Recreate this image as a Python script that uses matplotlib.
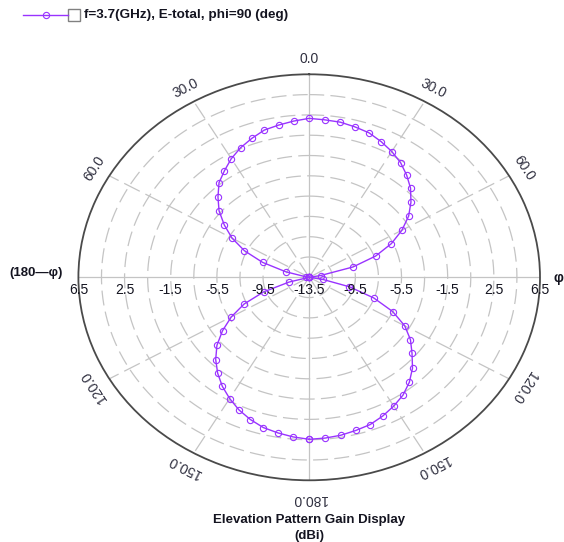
import numpy as np
import matplotlib
matplotlib.use('Agg')
import matplotlib.pyplot as plt
from matplotlib.lines import Line2D
from matplotlib.patches import Rectangle

plt.rcParams['font.family'] = ['Liberation Sans', 'DejaVu Sans']

# ── data: elevation cut, phi = 90 deg (theta in deg, gain in dBi) ─────────
theta_deg = [-180, -175, -170, -165, -160, -155, -150, -145, -140, -135,
             -130, -125, -120, -115, -110, -105, -100, -95, -90, -85,
             -80, -75, -70, -65, -60, -55, -50, -45, -40, -35,
             -30, -25, -20, -15, -10, -5, 0, 5, 10, 15,
             20, 25, 30, 35, 40, 45, 50, 55, 60, 65,
             70, 75, 80, 85, 90, 95, 100, 105, 110, 115,
             120, 125, 130, 135, 140, 145, 150, 155, 160, 165,
             170, 175, 180]
gain_dbi = [2.46, 2.29, 2.07, 1.83, 1.41, 0.91, 0.29, -0.38, -1.16, -2.04,
            -3.06, -4.33, -5.71, -7.28, -9.30, -11.7, -13.5, -13.5, -13.5, -13.5,
            -13.2, -11.4, -9.20, -7.31, -5.78, -4.52, -3.30, -2.32, -1.34, -0.69,
            0.00, 0.58, 1.06, 1.52, 1.73, 1.95, 2.16, 2.07, 2.02, 1.84,
            1.65, 1.25, 0.81, 0.30, -0.36, -1.08, -1.99, -2.98, -4.22, -5.64,
            -7.37, -9.58, -12.5, -13.5, -13.5, -13.5, -12.3, -9.90, -7.54, -5.52,
            -3.94, -2.79, -1.87, -0.84, 0.00, 0.67, 1.15, 1.58, 1.94, 2.12,
            2.30, 2.40, 2.46]

ring_ticks = [6.5, 2.5, -1.5, -5.5, -9.5]
ring_grid = [-11.5, -9.5, -7.5, -5.5, -3.5, -1.5, 0.5, 2.5, 4.5]
angle_ticks = [0, 30, 60, 120, 150, 180, -30, -60, -120, -150]

R_MIN, R_MAX = -13.5, 6.5
CURVE = '#9933ff'
GRID = '#c4c4c4'
TXT = '#141420'
W, H = 564, 542

fig = plt.figure(figsize=(W / 100, H / 100), dpi=100)
ax = fig.add_axes([78.4 / W, 61.7 / H, 461.6 / W, 406 / H], projection='polar')
ax.set_aspect('auto')
ax.set_theta_zero_location('N')
ax.set_theta_direction(-1)
ax.set_rlim(R_MIN, R_MAX)
ax.grid(False)
ax.set_xticks([])
ax.set_yticks([])
ax.spines['polar'].set_color('#4a4a4a')
ax.spines['polar'].set_linewidth(1.3)

# ── grid: dashed rings + spokes every 30 deg ──────────────────────────────
tt = np.linspace(0, 2 * np.pi, 400)
for r in ring_grid:
    ax.plot(tt, np.full_like(tt, r), color=GRID, lw=0.9,
            ls=(0, (12, 5)), zorder=1)
for a in range(0, 360, 30):
    ls = '-' if a % 90 == 0 else (0, (14, 5))
    ax.plot([np.deg2rad(a)] * 2, [R_MIN, R_MAX], color=GRID, lw=0.9,
            ls=ls, zorder=1)

# ── pattern ───────────────────────────────────────────────────────────────
ax.plot(np.deg2rad(theta_deg), gain_dbi, color=CURVE, lw=1.0,
        marker='o', ms=4.5, mfc='none', mec=CURVE, mew=0.8, zorder=3)

# ── radial labels along horizontal axis ───────────────────────────────────
for v in ring_ticks:
    for a in (90, 270):
        ax.annotate(f'{v:.1f}', xy=(np.deg2rad(a), v), xytext=(0, -9.2),
                    textcoords='offset points', ha='center', va='center',
                    fontsize=10, color=TXT, annotation_clip=False)
ax.annotate('-13.5', xy=(0, R_MIN), xytext=(0, -9.2), textcoords='offset points',
            ha='center', va='center', fontsize=10, color=TXT,
            annotation_clip=False)

# ── angle labels (tangential) ─────────────────────────────────────────────
a_px, b_px = 230.8, 203.0
for a in angle_ticks:
    t = np.deg2rad(a)
    rot = np.degrees(np.arctan2(-b_px * np.sin(t), a_px * np.cos(t)))
    rr = 8.35 if abs(a) == 180 else 8.0
    ax.text(t, rr, f'{abs(a):.1f}', rotation=rot, rotation_mode='anchor',
            ha='center', va='center', fontsize=10, color='#303040')

fig.text(558 / W, 1 - 278 / H, 'φ', ha='center', va='center',
         fontsize=10, fontweight='bold', color=TXT)
fig.text(63 / W, 1 - 273 / H, '(180—φ)', ha='right', va='center',
         fontsize=9.5, fontweight='bold', color=TXT)

# ── legend ────────────────────────────────────────────────────────────────
ly = 1 - 15 / H
fig.add_artist(Line2D([22.7 / W, 68.3 / W], [ly, ly], transform=fig.transFigure,
                      color=CURVE, lw=1.0))
fig.add_artist(Line2D([45.7 / W], [ly], transform=fig.transFigure, color=CURVE,
                      marker='o', ms=4.5, mfc='none', mew=0.8))
fig.add_artist(Rectangle((68.3 / W, 1 - 20.7 / H), 11.7 / W, 11.4 / H,
                         transform=fig.transFigure, facecolor='white',
                         edgecolor='#808080', lw=1.0))
fig.text(83.5 / W, ly, 'f=3.7(GHz), E-total, phi=90 (deg)', ha='left',
         va='center', fontsize=9.7, fontweight='bold', color=TXT)

# ── title ─────────────────────────────────────────────────────────────────
fig.text(309 / W, 1 - 520 / H, 'Elevation Pattern Gain Display', ha='center',
         va='center', fontsize=9.5, fontweight='bold', color=TXT)
fig.text(309 / W, 1 - 535.5 / H, '(dBi)', ha='center', va='center',
         fontsize=9.5, fontweight='bold', color=TXT)

fig.savefig('out.png', dpi=100, facecolor='white')
